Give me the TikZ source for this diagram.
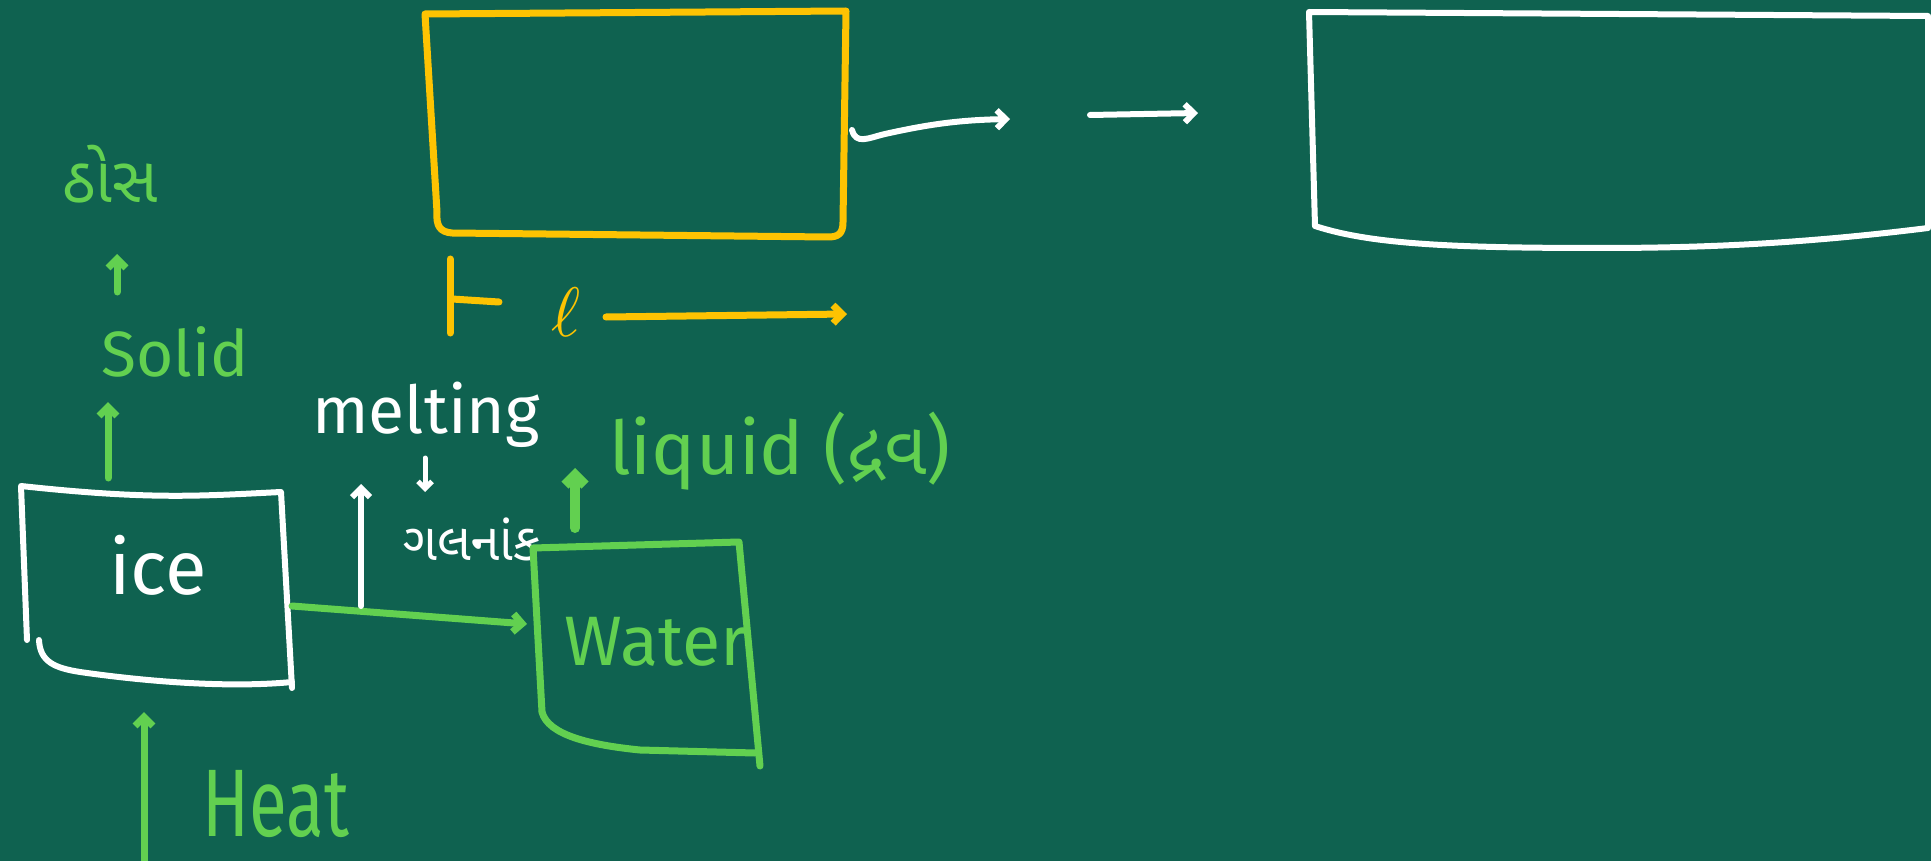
\documentclass[tikz,border=0pt]{standalone}
\usepackage{fontspec}
\setmainfont{Fira Sans}
\newfontfamily\guj[Script=Gujarati]{Noto Sans Gujarati UI}
\usetikzlibrary{arrows.meta}
\definecolor{board}{RGB}{15,98,80}
\definecolor{chalkgreen}{RGB}{98,208,80}
\definecolor{chalkyellow}{RGB}{253,195,2}
\tikzset{
  chalk/.style={line width=7pt, line cap=round, line join=round},
  barb/.style={-{Straight Barb[length=9pt,width=18pt]}},
  lbl/.style={inner sep=0pt, anchor=base},
}
\begin{document}
\begin{tikzpicture}[x=1pt,y=-1pt]
\fill[board] (0,0) rectangle (1931,861);
\useasboundingbox (0,0) rectangle (1931,861);

% ---------- yellow box and length arrow ----------
\coordinate (ytl) at (425,14);
\coordinate (ytr) at (846,11);
\coordinate (ye) at (852,130);
\draw[chalk, chalkyellow] (ytl) -- (ytr) -- (843,222)
   .. controls (843,234) and (838,237) .. (828,237) -- (452,233)
   .. controls (440,232) and (436,226) .. (437,212) -- cycle;
\coordinate (lbar1) at (450,259);
\coordinate (lbar2) at (450,333);
\draw[chalk, chalkyellow] (lbar1) -- (lbar2);
\draw[chalk, chalkyellow] (452,299) -- (499,302);
\node[lbl, text=chalkyellow] (ell) at (566,336) {\scalebox{7}{$\ell$}};
\coordinate (la) at (606,317);
\coordinate (lb) at (847,314);
\draw[chalk, chalkyellow, barb] (la) -- (lb);

% ---------- white arrows and big box ----------
\coordinate (wa) at (1010,119);
\draw[chalk, white, line width=6pt, barb] (ye) .. controls (856,145) and (868,138) .. (885,134)
   .. controls (930,124) and (960,120) .. (wa);
\coordinate (sa) at (1090,115);
\coordinate (sb) at (1198,113);
\draw[chalk, white, line width=6pt, barb] (sa) -- (sb);
\draw[chalk, white, line width=6pt] (1309,12) -- (1928,16) -- (1928,228)
   .. controls (1800,244) and (1700,248) .. (1600,248)
   .. controls (1450,248) and (1370,244) .. (1315,226) -- cycle;

% ---------- left column: solid ----------
\node[lbl, text=chalkgreen, font=\guj\fontsize{64}{64}\selectfont] (thos) at (110,203) {ઠોસ};
\coordinate (s1) at (117,292);
\coordinate (s2) at (117,254);
\draw[chalk, chalkgreen, barb] (s1) -- (s2);
\node[lbl, text=chalkgreen, font=\fontsize{64}{64}\selectfont] (solid) at (175,376) {Solid};

% ---------- ice box ----------
\coordinate (itl) at (21,486);
\coordinate (itr) at (281,492);
\draw[chalk, white, line width=6pt] (27,640) -- (itl) .. controls (150,500) and (200,496) .. (itr) -- (292,688);
\draw[chalk, white, line width=6pt] (39,640) .. controls (40,662) and (55,668) .. (80,672)
   .. controls (150,682) and (230,688) .. (292,682);
\node[lbl, text=white, font=\fontsize{76}{76}\selectfont] (ice) at (158,594) {ice};
\coordinate (i1) at (108,478);
\coordinate (i2) at (108,402);
\draw[chalk, chalkgreen, barb] (i1) -- (i2);
\coordinate (h1) at (144,861);
\coordinate (h2) at (144,712);
\draw[chalk, chalkgreen, barb] (h1) -- (h2);
\node[lbl, text=chalkgreen, font=\fontsize{96}{96}\selectfont] (heat) at (276,836) {\scalebox{0.72}[1]{Heat}};

% ---------- melting ----------
\coordinate (m1) at (292,606);
\coordinate (m2) at (527,624);
\draw[chalk, chalkgreen, barb] (m1) -- (m2);
\coordinate (v1) at (361,606);
\coordinate (v2) at (361,484);
\draw[chalk, white, line width=6pt, barb] (v1) -- (v2);
\node[lbl, text=white, font=\fontsize{66}{66}\selectfont] (melt) at (426,433) {melting};
\coordinate (d1) at (425,458);
\coordinate (d2) at (425,492);
\draw[chalk, white, line width=5pt, -{Straight Barb[length=7pt,width=14pt]}] (d1) -- (d2);
\node[lbl, text=white, font=\guj\fontsize{52}{52}\selectfont] (galan) at (472,560) {ગલનાંક};

% ---------- water box ----------
\draw[chalk, chalkgreen] (542,712) -- (533,548) -- (739,542) -- (760,766);
\draw[chalk, chalkgreen] (542,712) .. controls (548,735) and (590,745) .. (640,750)
   -- (755,753);
\node[lbl, text=chalkgreen, font=\fontsize{70}{70}\selectfont] (water) at (656,665) {Water};
\coordinate (w1) at (575,528);
\coordinate (w2) at (575,468);
\draw[chalk, chalkgreen, line width=10pt, -{Straight Barb[length=10pt,width=20pt]}] (w1) -- (w2);
\node[lbl, text=chalkgreen, font=\fontsize{74}{74}\selectfont] (liquid) at (780,474) {liquid ({\guj દ્રવ})};
\end{tikzpicture}
\end{document}
